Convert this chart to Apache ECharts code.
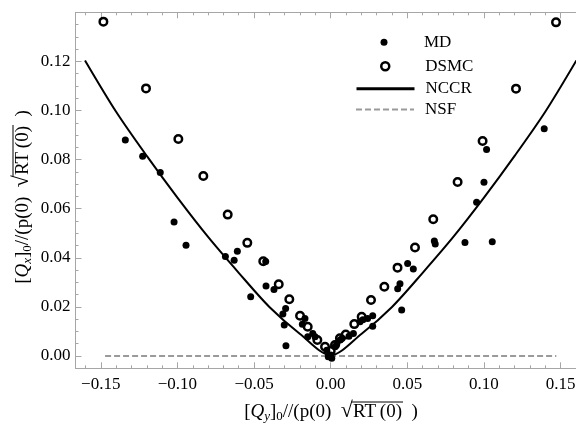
<!DOCTYPE html>
<html><head><meta charset="utf-8">
<script src="https://cdn.jsdelivr.net/npm/echarts@6/dist/echarts.min.js"></script>
<style>html,body{margin:0;padding:0;background:#fff}#c{width:576px;height:426px}</style>
</head><body><div id="c"></div>
<script>
// ---------- data ----------
const mdPoints = [
  [-0.1340, 0.0880], [-0.1227, 0.0814], [-0.1112, 0.0748], [-0.1022, 0.0546],
  [-0.0944, 0.0451], [-0.0687, 0.0405], [-0.0630, 0.0390], [-0.0609, 0.0427],
  [-0.0522, 0.0241], [-0.0424, 0.0385], [-0.0422, 0.0285], [-0.0370, 0.0271],
  [-0.0294, 0.0194], [-0.0312, 0.0171], [-0.0303, 0.0126], [-0.0292, 0.0042],
  [-0.0185, 0.0129], [-0.0168, 0.0153], [-0.0150, 0.0079], [-0.0117, 0.0092],
  [-0.0102, 0.0079], [-0.0026, 0.0024], [-0.0016, -0.0003], [0.0000, 0.0004],
  [0.0007, -0.0009], [0.0028, 0.0038], [0.0040, 0.0050], [0.0061, 0.0065],
  [0.0075, 0.0072], [0.0119, 0.0081], [0.0148, 0.0092], [0.0191, 0.0140],
  [0.0210, 0.0148], [0.0241, 0.0153], [0.0274, 0.0164], [0.0274, 0.0121],
  [0.0437, 0.0274], [0.0452, 0.0294], [0.0463, 0.0187], [0.0502, 0.0377],
  [0.0539, 0.0354], [0.0676, 0.0469], [0.0682, 0.0456], [0.0876, 0.0462],
  [0.0952, 0.0626], [0.1000, 0.0708], [0.1017, 0.0841], [0.1054, 0.0465],
  [0.1393, 0.0926]
];
const dsmcPoints = [
  [-0.1483, 0.1362], [-0.1205, 0.1090], [-0.0994, 0.0884], [-0.0831, 0.0733],
  [-0.0672, 0.0576], [-0.0544, 0.0461], [-0.0440, 0.0386], [-0.0339, 0.0292],
  [-0.0270, 0.0231], [-0.0200, 0.0164], [-0.0150, 0.0119], [-0.0087, 0.0065],
  [-0.0037, 0.0038], [0.0000, 0.0020], [0.0028, 0.0045], [0.0060, 0.0072],
  [0.0098, 0.0088], [0.0154, 0.0130], [0.0202, 0.0160], [0.0263, 0.0228],
  [0.0350, 0.0282], [0.0436, 0.0360], [0.0550, 0.0442], [0.0669, 0.0557],
  [0.0828, 0.0709], [0.0991, 0.0876], [0.1209, 0.1089], [0.1470, 0.1359]
];
const nccrCurve = [
  [-0.1603, 0.1204], [-0.14, 0.0995], [-0.12, 0.0815], [-0.10, 0.0645],
  [-0.08, 0.0485], [-0.06, 0.0339], [-0.04, 0.0200], [-0.02, 0.0090],
  [0.0, 0.0003],
  [0.02, 0.0090], [0.04, 0.0200], [0.06, 0.0339], [0.08, 0.0485],
  [0.10, 0.0645], [0.12, 0.0815], [0.14, 0.0995], [0.1603, 0.1204]
];
const nsfLine = [[-0.1472, 0], [0.1472, 0]];

const seriesNames = ['MD', 'DSMC', 'NCCR', 'NSF'];
const xRange = [-0.1665, 0.1665];
const yRange = [-0.005, 0.14];
const xMajorTicks = [-0.15, -0.10, -0.05, 0, 0.05, 0.10, 0.15];
const xMinorTicks = [-0.16, -0.14, -0.13, -0.12, -0.11, -0.09, -0.08, -0.07, -0.06, -0.04, -0.03, -0.02, -0.01,
  0.01, 0.02, 0.03, 0.04, 0.06, 0.07, 0.08, 0.09, 0.11, 0.12, 0.13, 0.14, 0.16];
const yMajorTicks = [0, 0.02, 0.04, 0.06, 0.08, 0.10, 0.12, 0.14];
const yLabelValues = [0, 0.02, 0.04, 0.06, 0.08, 0.10, 0.12];
const yMinorTicks = [-0.005, 0.005, 0.01, 0.015, 0.025, 0.03, 0.035, 0.045, 0.05, 0.055, 0.065, 0.07, 0.075,
  0.085, 0.09, 0.095, 0.105, 0.11, 0.115, 0.125, 0.13, 0.135];

// ---------- styling ----------
const FONT = '"Liberation Serif", "Times New Roman", serif';
const FS = 17;
const TFS = 19;
const FRAME = '#a6a6a6';
const fmt = v => (v < -1e-9 ? '\u2212' : '') + Math.abs(v).toFixed(2);

function mkX(pos, ticks, len, withLabels, withLine) {
  return {
    type: 'value', min: xRange[0], max: xRange[1], position: pos,
    axisLine: { show: withLine, onZero: false, lineStyle: { color: FRAME, width: 1 } },
    axisTick: { show: true, inside: true, length: len, customValues: ticks, lineStyle: { color: FRAME, width: 1 } },
    axisLabel: withLabels ? { show: true, customValues: xMajorTicks, formatter: fmt, color: '#000', fontFamily: FONT, fontSize: FS, margin: 8, hideOverlap: false } : { show: false },
    splitLine: { show: false }
  };
}
function mkY(pos, ticks, len, withLabels, withLine) {
  return {
    type: 'value', min: yRange[0], max: yRange[1], position: pos,
    axisLine: { show: withLine, onZero: false, lineStyle: { color: FRAME, width: 1 } },
    axisTick: { show: true, inside: true, length: len, customValues: ticks, lineStyle: { color: FRAME, width: 1 } },
    axisLabel: withLabels ? { show: true, customValues: yLabelValues, formatter: fmt, color: '#000', fontFamily: FONT, fontSize: FS, margin: 5 } : { show: false },
    splitLine: { show: false }
  };
}

// ---------- axis titles (measured so the radical's overline fits) ----------
const mctx = document.createElement('canvas').getContext('2d');
function w(t, font) { mctx.font = font; return mctx.measureText(t).width; }
function titleGroup(sub, cx, cy, rot) {
  const big = TFS + 'px ' + FONT, bigI = 'italic ' + TFS + 'px ' + FONT;
  const sm = '13px ' + FONT, smI = 'italic 13px ' + FONT;
  const rad = (TFS + 3) + 'px ' + FONT;
  const segs = [
    { t: '[', f: big }, { t: 'Q', f: bigI }, { t: sub, f: smI, dy: 5 }, { t: ']', f: big },
    { t: '0', f: sm, dy: 5 }, { t: '//(p(0)\u2002', f: big }, { t: '\u221A', f: rad, dy: -1 },
    { t: 'RT\u2009(0)', f: big, over: true }, { t: '\u2002)', f: big }
  ];
  let total = 0; segs.forEach(s => { s.w = w(s.t, s.f); total += s.w; });
  let x = -total / 2;
  const children = [];
  let ox0 = null, ox1 = null;
  segs.forEach(s => {
    children.push({ type: 'text', x: x, y: (s.dy || 0), style: { text: s.t, font: s.f, fill: '#000', textAlign: 'left', textVerticalAlign: 'middle' } });
    if (s.t === '\u221A') ox0 = x + s.w - 1.5;
    if (s.over) ox1 = x + s.w + 1;
    x += s.w;
  });
  children.push({ type: 'line', shape: { x1: ox0, y1: -10, x2: ox1, y2: -10 }, style: { stroke: '#000', lineWidth: 1 } });
  return { type: 'group', x: cx, y: cy, rotation: rot, children: children };
}

// ---------- legends ----------
function mkLegend(name, left, cy, w, h, extra) {
  return Object.assign({
    data: [name], left: left, top: cy - 9, orient: 'vertical', padding: 0,
    itemWidth: w, itemHeight: h, selectedMode: false,
    textStyle: { fontFamily: FONT, fontSize: FS, color: '#000', padding: [0, 0, 0, 6] }
  }, extra || {});
}

const chart = echarts.init(document.getElementById('c'), null, { renderer: 'canvas', width: 576, height: 426 });
chart.setOption({
  animation: false,
  backgroundColor: '#fff',
  grid: { left: 75.5, right: -9.9, top: 12.3, bottom: 57.7, containLabel: false, outerBoundsMode: 'none' },
  xAxis: [
    mkX('bottom', xMajorTicks, 6, true, true),
    mkX('bottom', xMinorTicks, 3, false, false),
    mkX('top', xMajorTicks, 6, false, true),
    mkX('top', xMinorTicks, 3, false, false)
  ],
  yAxis: [
    mkY('left', yMajorTicks, 6, true, true),
    mkY('left', yMinorTicks, 3, false, false)
  ],
  legend: [
    mkLegend('MD', 380.5, 42.7, 58, 7),
    mkLegend('DSMC', 380, 66.7, 58, 8, { itemStyle: { borderWidth: 2.5, borderColor: '#000', color: 'rgba(0,0,0,0)' } }),
    mkLegend('NCCR', 355, 89.3, 58, 14, { lineStyle: { width: 3, color: '#000' }, itemStyle: { color: 'rgba(0,0,0,0)', borderWidth: 0, opacity: 0 } }),
    mkLegend('NSF', 355, 110, 58, 14, { lineStyle: { width: 2, color: '#9a9a9a', type: [6, 3], opacity: 1 }, itemStyle: { color: 'rgba(0,0,0,0)', borderWidth: 0, opacity: 0 } })
  ],
  series: [
    { name: 'NSF', type: 'line', data: nsfLine, symbol: 'none', itemStyle: { color: '#9a9a9a' }, lineStyle: { color: '#9a9a9a', width: 2, type: [6, 3] }, z: 2 },
    { name: 'NCCR', type: 'line', data: nccrCurve, symbol: 'none', smooth: 0.3, itemStyle: { color: '#000' }, lineStyle: { color: '#000', width: 2 }, z: 3 },
    { name: 'DSMC', type: 'scatter', data: dsmcPoints, symbol: 'circle', symbolSize: 7.5,
      itemStyle: { color: 'rgba(0,0,0,0)', borderColor: '#000', borderWidth: 2.5, opacity: 1 }, z: 4 },
    { name: 'MD', type: 'scatter', data: mdPoints, symbol: 'circle', symbolSize: 7,
      itemStyle: { color: '#000', opacity: 1 }, z: 5 }
  ],
  graphic: [
    titleGroup('y', 331, 412, 0),
    titleGroup('x', 23, 197, Math.PI / 2)
  ]
});
</script></body></html>
